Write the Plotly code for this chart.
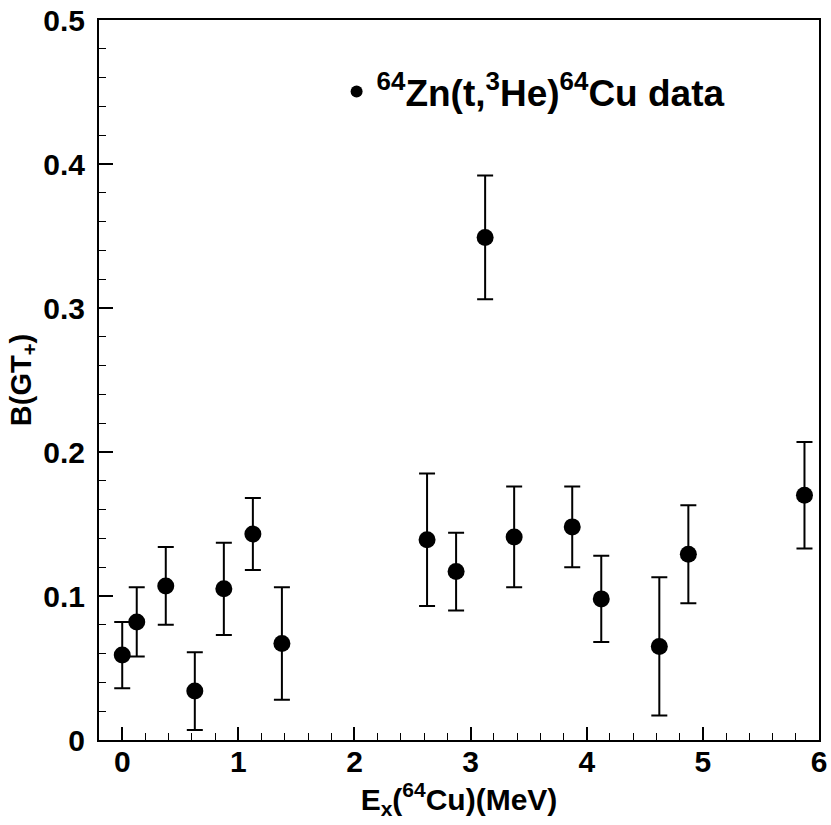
import plotly.graph_objects as go

# Gamow-Teller strength per 0.25 MeV excitation-energy bin
ex_mev = [0.0, 0.125, 0.375, 0.625, 0.875, 1.125, 1.375, 2.625, 2.875,
          3.125, 3.375, 3.875, 4.125, 4.625, 4.875, 5.875]
bgt = [0.059, 0.082, 0.107, 0.034, 0.105, 0.143, 0.067, 0.139, 0.117,
       0.349, 0.141, 0.148, 0.098, 0.065, 0.129, 0.170]
bgt_err = [0.023, 0.024, 0.027, 0.027, 0.032, 0.025, 0.039, 0.046, 0.027,
           0.043, 0.035, 0.028, 0.030, 0.048, 0.034, 0.037]

x_ticks = [0, 1, 2, 3, 4, 5, 6]
y_ticks = [0, 0.1, 0.2, 0.3, 0.4, 0.5]

FONT = "Liberation Sans, Arial, Helvetica, sans-serif"

fig = go.Figure()
fig.add_trace(go.Scatter(
    x=ex_mev, y=bgt, mode="markers",
    name="<sup>64</sup>Zn(t,<sup>3</sup>He)<sup>64</sup>Cu data",
    marker=dict(color="black", size=17, symbol="circle"),
    error_y=dict(type="data", array=bgt_err, visible=True,
                 color="black", thickness=2, width=8),
))

axis_common = dict(
    showline=True, linecolor="black", linewidth=2, mirror=True,
    ticks="inside", tickcolor="black", tickwidth=2,
    showgrid=False, zeroline=False, automargin=False,
    tickfont=dict(family=FONT, size=30, color="black", weight="bold"),
)

fig.update_layout(
    width=831, height=825,
    margin=dict(l=99, r=12, t=20, b=85, autoexpand=False),
    paper_bgcolor="white", plot_bgcolor="white",
    showlegend=True,
    legend=dict(
        x=0.33, y=0.9, xanchor="left", yanchor="middle",
        bgcolor="rgba(0,0,0,0)", borderwidth=0,
        itemsizing="constant",
        font=dict(family=FONT, size=37, color="black", weight="bold"),
    ),
    xaxis=dict(
        range=[-0.2, 6.0], tickvals=x_ticks, ticklen=13,
        minor=dict(dtick=0.2, tick0=0, ticks="inside", ticklen=7,
                   tickwidth=1, tickcolor="black"),
        ticklabelstandoff=-6,
        title=dict(text="E<sub>x</sub>(<sup>64</sup>Cu)(MeV)", standoff=0,
                   font=dict(family=FONT, size=30, color="black", weight="bold")),
        **axis_common,
    ),
    yaxis=dict(
        range=[0, 0.5], tickvals=y_ticks, ticklen=14,
        minor=dict(dtick=0.02, tick0=0, ticks="inside", ticklen=7,
                   tickwidth=1, tickcolor="black"),
        ticklabelstandoff=6,
        title=dict(text="B(GT<sub>+</sub>)", standoff=3,
                   font=dict(family=FONT, size=29, color="black", weight="bold")),
        **axis_common,
    ),
)

fig.write_html("out.html")
